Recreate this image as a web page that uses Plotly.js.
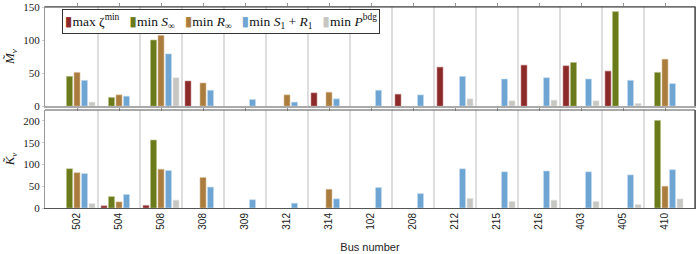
<!DOCTYPE html>
<html><head><meta charset="utf-8">
<script src="https://cdn.plot.ly/plotly-3.0.1.min.js"></script>
<style>body{margin:0;background:#fff}#chart{width:696px;height:254px}</style>
</head><body><div id="chart"></div>
<script>
const buses = ['502','504','508','308','309','312','314','102','208','212','215','216','403','405','410'];
const seriesNames = ['max ζ<sup>min</sup>','min <i>S</i><sub>∞</sub>','min <i>R</i><sub>∞</sub>','min <i>S</i><sub>1</sub> + <i>R</i><sub>1</sub>','min <i>P</i><sup>bdg</sup>'];
const seriesColors = ['#8c2a2a','#6b7a1a','#aa7d3e','#6fa5d2','#c6c6c2'];
const seriesEdges = ['#c89090','#b0bc80','#dcc09a','#c4dcf0','#e4e4e2'];

// M~_v (top panel)
const zetaM = [null,null,null,38,null,null,20,null,18,59,null,62,61,53,null];
const SinfM = [45,13,100,null,null,null,null,null,null,null,null,null,66,143,51];
const RinfM = [51,17,107,35,null,17,21,null,null,null,null,null,null,null,71];
const S1R1M = [39,15,79,24,10,6,11,24,17,45,41,43,41,39,34];
const PbdgM = [6,null,43,null,null,null,null,null,null,11,8,9,8,4,null];
// K~_v (bottom panel)
const zetaK = [null,5,6,null,null,null,null,null,null,null,null,null,null,null,null];
const SinfK = [90,26,156,null,null,null,null,null,null,null,null,null,null,null,201];
const RinfK = [81,14,89,70,null,null,43,null,null,null,null,null,null,null,50];
const S1R1K = [79,31,86,48,19,11,21,47,33,90,83,85,83,76,88];
const PbdgK = [10,null,18,null,null,null,null,null,null,22,15,18,15,8,21];

const topSeries = [zetaM,SinfM,RinfM,S1R1M,PbdgM];
const botSeries = [zetaK,SinfK,RinfK,S1R1K,PbdgK];

const traces = [];
topSeries.forEach((ys,i)=>{
  traces.push({type:'bar',x:buses,y:ys,name:seriesNames[i],xaxis:'x',yaxis:'y',
    marker:{color:seriesColors[i],line:{color:seriesEdges[i],width:0.6}},showlegend:false,hoverinfo:'skip'});
});
botSeries.forEach((ys,i)=>{
  traces.push({type:'bar',x:buses,y:ys,name:seriesNames[i],xaxis:'x2',yaxis:'y2',
    marker:{color:seriesColors[i],line:{color:seriesEdges[i],width:0.6}},showlegend:false,hoverinfo:'skip'});
});

const xr = [-0.762, 14.714];
const serif = 'Liberation Serif, DejaVu Serif, serif';
const sans = 'Liberation Sans, DejaVu Sans, sans-serif';

const shapes = [];
for (let i=0;i<buses.length-1;i++){
  shapes.push({type:'line',xref:'x',yref:'y domain',x0:i+0.5,x1:i+0.5,y0:0,y1:1,line:{color:'#bdbdbd',width:1},layer:'below'});
  shapes.push({type:'line',xref:'x2',yref:'y2 domain',x0:i+0.5,x1:i+0.5,y0:0,y1:1,line:{color:'#bdbdbd',width:1},layer:'below'});
}
// frame borders
[['y','#333'],['y2','#555']].forEach(([ya,c])=>{
  shapes.push({type:'line',xref:'paper',yref:ya+' domain',x0:0,x1:1,y0:1,y1:1,line:{color:c,width:1.2}});
  shapes.push({type:'line',xref:'paper',yref:ya+' domain',x0:1,x1:1,y0:0,y1:1,line:{color:'#333',width:1.2}});
});

let legendText = seriesNames.map((n,i)=>'<span style="color:'+seriesColors[i]+'">▮</span>'+n).join('&nbsp;&nbsp; ');

const layout = {
  width:696,height:254,
  margin:{l:45,r:1,t:7,b:46},
  paper_bgcolor:'#fff',plot_bgcolor:'#fff',
  barmode:'group',bargap:0.107,bargroupgap:0.2,
  showlegend:false,
  xaxis:{type:'category',range:xr,domain:[0,1],anchor:'y',showticklabels:false,showgrid:false,zeroline:false,
    showline:true,linecolor:'#aaa',linewidth:1.5,mirror:'ticks',ticks:'outside',ticklen:3,tickcolor:'#999'},
  yaxis:{domain:[0.507,1],range:[0,150],tickvals:[0,50,100,150],showgrid:false,zeroline:false,
    showline:true,linecolor:'#999',linewidth:1,ticks:'outside',ticklen:2,tickcolor:'#ccc',mirror:'ticks',
    tickfont:{family:serif,size:11,color:'#222'},
    title:{text:'<i>M\u0303</i><sub><i>v</i></sub>',font:{family:serif,size:13,color:'#222'},standoff:5}},
  xaxis2:{type:'category',range:xr,domain:[0,1],anchor:'y2',showgrid:false,zeroline:false,
    showline:true,linecolor:'#555',linewidth:1,ticks:'',tickangle:-90,
    tickfont:{family:sans,size:10,color:'#222'},
    title:{text:'Bus number',font:{family:sans,size:11,color:'#222'},standoff:14}},
  yaxis2:{domain:[0,0.4876],range:[0,225],tickvals:[0,50,100,150,200],showgrid:false,zeroline:false,
    showline:true,linecolor:'#999',linewidth:1,ticks:'outside',ticklen:2,tickcolor:'#ccc',mirror:'ticks',
    tickfont:{family:serif,size:11,color:'#222'},
    title:{text:'<i>K\u0303</i><sub><i>v</i></sub>',font:{family:serif,size:13,color:'#222'},standoff:5}},
  shapes:shapes,
  annotations:[{xref:'paper',yref:'paper',x:0.026,y:0.99,xanchor:'left',yanchor:'top',
    text:legendText,showarrow:false,align:'left',bgcolor:'#fff',bordercolor:'#333',borderwidth:1,borderpad:2,
    font:{family:serif,size:13.5,color:'#111'}}]
};
Plotly.newPlot('chart',traces,layout,{staticPlot:true});
</script></body></html>
